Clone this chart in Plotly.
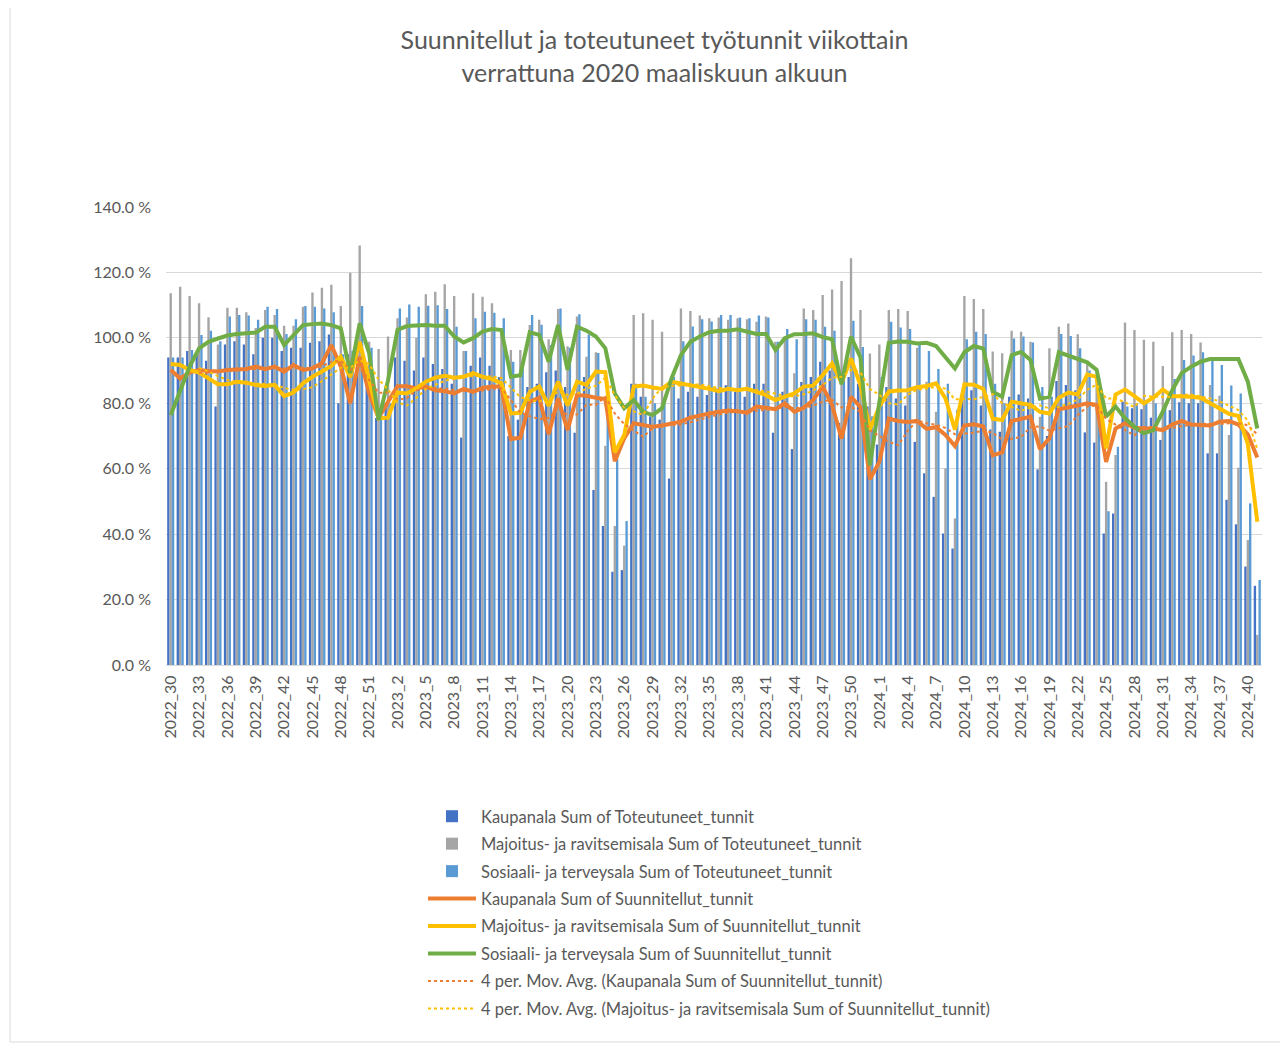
import plotly.graph_objects as go
import pandas as pd

weeks = ([f"2022_{w}" for w in range(30, 53)] +
         [f"2023_{w}" for w in range(1, 53)] +
         [f"2024_{w}" for w in range(1, 42)])

kaupanala_toteutuneet = [
    94, 94, 96, 95, 93, 79, 98, 99, 98, 95, 100, 100, 96, 97, 97, 98.5, 99, 101, 80, 95,
    95, 90, 75.5, 80, 94, 93, 90, 94, 92, 90.5, 86, 69.5, 91.5, 94, 91.5, 88, 70, 75, 85, 86,
    89.5, 90, 85, 71, 88, 53.5, 42.5, 28.5, 29, 86, 82, 76, 75, 57, 81.5, 83.5, 82, 82.5, 84.5, 85.5,
    83.5, 82, 86, 86, 71, 83.5, 66, 86.5, 88, 92.7, 90, 74, 88, 86, 79, 67.4, 85, 81.5, 79.3, 68.2,
    58.6, 51.4, 40.2, 35.6, 82, 84, 79.3, 72, 71.3, 82, 82.7, 81.5, 59.8, 70, 86.8, 85.6, 84, 71.1, 68, 40.2,
    46.3, 80.5, 78.5, 78.2, 75.6, 68.8, 77.9, 80.3, 80, 80, 64.7, 64.7, 50.5, 43, 30.1, 24.2]

majoitus_toteutuneet = [
    113.6, 115.6, 112.8, 110.6, 106.3, 98, 109.2, 109.2, 107.8, 103, 108.5, 107, 103.7, 103.7, 109.5, 113.9, 115.3, 116.2, 109.7, 119.9,
    128.2, 98.8, 96.6, 100.4, 106, 106.2, 100, 113.3, 114.1, 116.4, 112.8, 96, 113.6, 112.6, 110.6, 102.9, 96.3, 96.3, 103.9, 105.5,
    99.6, 108.8, 97.4, 106.5, 94.2, 95.6, 67, 42.5, 36.5, 107, 107.5, 105.5, 101.9, 87.6, 109, 108.2, 106.8, 106, 106.2, 105.5,
    106, 105.7, 104.9, 106.5, 98.8, 100, 89.2, 109, 108.5, 113.1, 114.8, 117.4, 124.3, 108.5, 95.2, 98, 108.5, 108.8, 108.2, 97,
    86.6, 77.4, 60.1, 44.8, 112.8, 111.9, 108.8, 95.8, 95.3, 102.2, 101.9, 98.8, 75.9, 96.8, 103.4, 104.4, 101.1, 92, 88, 56,
    64.2, 104.7, 102.4, 99.4, 98.8, 91.4, 101.7, 102.4, 101.2, 98.6, 85.6, 82.3, 70.3, 60.3, 38.2, 9.2]

sosiaali_toteutuneet = [
    94, 94, 96.3, 100.9, 102.2, 99, 106.5, 107, 106.8, 105.5, 109.5, 108.8, 101.2, 105.7, 109.7, 109.5, 109, 107.8, 95, 96,
    109.7, 97, 75, 80, 109, 110.2, 109.5, 109.8, 110, 108.8, 103.4, 96, 106, 108, 107.7, 106, 92.7, 91.5, 107, 104,
    97.8, 109, 97, 107.2, 101, 95.4, 80, 63, 44, 86, 82, 80, 80, 88, 99, 103.5, 105.7, 105, 107, 107,
    106.2, 106, 106.8, 106.2, 98.8, 102.7, 99.6, 105.7, 105.5, 103.4, 102.2, 91, 105.2, 97.2, 76, 88, 104.9, 103.2, 102.7, 97.8,
    96, 90.5, 86, 78, 99.6, 101.9, 101.2, 86, 80, 99.8, 100.4, 98.6, 85, 82, 101.2, 100.6, 96.8, 90, 88, 47,
    66.7, 79, 80, 80, 80, 80, 87.4, 93.2, 94.6, 95.6, 92.9, 91.7, 85.4, 83, 49.4, 26]

kaupanala_suunnitellut = [
    90.2, 87.6, 89.4, 90.2, 89.9, 89.7, 90.2, 90.4, 90.5, 91.2, 90.4, 91.2, 89.7, 91.7, 90.2, 90.7, 92.2, 97.8, 91.2, 80.0,
    94.2, 83.1, 75.5, 80.5, 85.2, 85.2, 84.5, 85.1, 84.0, 83.7, 83.0, 84.4, 83.5, 84.7, 85.1, 85.1, 69.1, 69.5, 80.5, 81.7,
    70.5, 81.5, 71.8, 82.5, 82.3, 81.7, 81.3, 62.3, 69.3, 73.9, 73.4, 72.8, 73.2, 73.7, 74.4, 75.6, 76.4, 76.9, 77.4, 77.8,
    77.6, 77.1, 79.0, 78.5, 78.2, 80.0, 77.4, 78.6, 81.0, 85.1, 79.5, 69.2, 82.0, 78.8, 56.8, 62.1, 75.3, 74.6, 74.3, 74.6,
    72.2, 72.7, 70.3, 66.9, 73.2, 73.6, 72.9, 64.1, 65.0, 74.6, 75.2, 75.9, 66.0, 69.3, 78.2, 78.6, 79.3, 80.0, 79.5, 62.1,
    72.3, 73.9, 72.5, 72.3, 72.3, 71.8, 73.5, 74.6, 73.5, 73.4, 73.2, 74.4, 74.6, 73.5, 70.5, 63.4]

majoitus_suunnitellut = [
    92.0, 91.7, 90.2, 89.4, 87.6, 85.8, 85.8, 86.6, 86.3, 85.6, 85.3, 85.6, 82.2, 83.3, 86.1, 88.1, 89.7, 91.4, 94.2, 88.0,
    98.8, 87.0, 75.4, 75.6, 83.3, 83.0, 84.6, 86.6, 87.8, 88.4, 87.8, 88.1, 89.2, 88.1, 87.4, 86.1, 76.9, 77.1, 83.5, 85.1,
    79.2, 86.6, 79.3, 86.6, 85.6, 89.7, 89.5, 65.0, 70.3, 85.1, 85.4, 84.8, 84.4, 86.6, 86.1, 85.4, 85.1, 84.4, 83.7, 84.4,
    84.0, 84.4, 83.5, 82.5, 81.0, 82.0, 83.0, 85.1, 85.4, 88.6, 92.2, 86.3, 93.7, 85.5, 72.0, 79.0, 83.6, 83.9, 84.0, 84.9,
    85.3, 86.1, 81.5, 71.9, 85.8, 85.7, 84.4, 75.3, 74.9, 80.5, 80.0, 79.5, 77.4, 76.9, 81.7, 83.3, 82.7, 88.8, 88.1, 66.2,
    82.7, 84.2, 82.2, 80.0, 81.7, 84.2, 82.2, 82.2, 82.0, 81.7, 80.1, 78.6, 76.8, 76.1, 67.5, 43.8]

sosiaali_suunnitellut = [
    76.4, 84.0, 91.2, 96.8, 98.8, 99.8, 100.7, 101.2, 101.4, 101.6, 103.4, 103.4, 97.8, 100.9, 103.9, 104.2, 104.4, 103.9, 102.9, 89.2,
    104.4, 95.3, 74.9, 87.0, 102.4, 103.6, 103.9, 103.9, 103.7, 103.7, 100.4, 98.6, 99.9, 101.9, 102.7, 102.4, 88.1, 88.6, 101.7, 100.9,
    92.7, 103.9, 90.2, 103.4, 102.2, 100.4, 96.8, 83.0, 78.5, 81.0, 77.4, 76.4, 78.5, 87.6, 94.7, 98.8, 100.4, 101.7, 102.2, 102.2,
    102.6, 101.9, 101.2, 101.2, 96.3, 99.9, 101.1, 101.2, 101.4, 100.2, 99.6, 85.8, 100.4, 94.0, 61.0, 80.3, 98.5, 98.9, 98.8, 98.3,
    98.5, 97.5, 94.2, 90.6, 95.6, 97.5, 96.7, 83.5, 82.0, 94.7, 95.7, 93.2, 81.4, 82.0, 95.6, 94.6, 93.5, 92.5, 90.2, 75.9,
    79.0, 75.4, 72.8, 70.8, 71.8, 77.4, 84.0, 89.2, 91.2, 92.7, 93.5, 93.6, 93.6, 93.5, 86.6, 72.3]

y_tickvals = [0, 20, 40, 60, 80, 100, 120, 140]
y_ticktext = ["0.0 %", "20.0 %", "40.0 %", "60.0 %", "80.0 %", "100.0 %", "120.0 %", "140.0 %"]

# Excel-style 4 period moving average trendlines
ma_kaupanala = pd.Series(kaupanala_suunnitellut).rolling(4).mean().tolist()
ma_majoitus = pd.Series(majoitus_suunnitellut).rolling(4).mean().tolist()

FONT = "Lato, 'Open Sans', sans-serif"
GREY_TXT = "#595959"

fig = go.Figure()
bar_specs = [
    ("Kaupanala Sum of Toteutuneet_tunnit", kaupanala_toteutuneet, "#4472C4"),
    ("Majoitus- ja ravitsemisala Sum of Toteutuneet_tunnit", majoitus_toteutuneet, "#A5A5A5"),
    ("Sosiaali- ja terveysala Sum of Toteutuneet_tunnit", sosiaali_toteutuneet, "#5B9BD5"),
]
for i, (name, vals, col) in enumerate(bar_specs):
    fig.add_trace(go.Bar(x=weeks, y=vals, name=name, marker=dict(color=col, line=dict(width=0)),
                         legendgroup=f"g{i}"))

line_specs = [
    ("Kaupanala Sum of Suunnitellut_tunnit", kaupanala_suunnitellut, "#ED7D31"),
    ("Majoitus- ja ravitsemisala Sum of Suunnitellut_tunnit", majoitus_suunnitellut, "#FFC000"),
    ("Sosiaali- ja terveysala Sum of Suunnitellut_tunnit", sosiaali_suunnitellut, "#70AD47"),
]
for i, (name, vals, col) in enumerate(line_specs):
    fig.add_trace(go.Scatter(x=weeks, y=vals, name=name, mode="lines",
                             line=dict(color=col, width=4), legendgroup=f"l{i}"))

fig.add_trace(go.Scatter(x=weeks, y=ma_kaupanala, mode="lines",
                         name="4 per. Mov. Avg. (Kaupanala Sum of Suunnitellut_tunnit)",
                         line=dict(color="#ED7D31", width=2, dash="dot"), legendgroup="m0"))
fig.add_trace(go.Scatter(x=weeks, y=ma_majoitus, mode="lines",
                         name="4 per. Mov. Avg. (Majoitus- ja ravitsemisala Sum of Suunnitellut_tunnit)",
                         line=dict(color="#FFC000", width=2, dash="dot"), legendgroup="m1"))

# page has an 8px body margin; figure is sized to fill the rest of the window
OFF = 8
W, H = 1288 - OFF, 1051 - OFF
PLOT_LEFT, PLOT_RIGHT, PLOT_TOP, PLOT_BOTTOM = 166, 1262, 207, 665   # page pixel coords
L = PLOT_LEFT - OFF
R = W - (PLOT_RIGHT - OFF)
T = PLOT_TOP - OFF
B = H - (PLOT_BOTTOM - OFF)
pw, ph = W - L - R, H - T - B

def px_x(page_x):
    return (page_x - PLOT_LEFT) / pw

def px_y(page_y):
    return (PLOT_BOTTOM - page_y) / ph

fig.update_layout(
    width=W, height=H,
    margin=dict(l=L, r=R, t=T, b=B),
    paper_bgcolor="white", plot_bgcolor="white",
    font=dict(family=FONT, color=GREY_TXT),
    title=dict(text="Suunnitellut ja toteutuneet työtunnit viikottain<br>verrattuna 2020 maaliskuun alkuun",
               x=(654.5 - OFF) / W, xanchor="center", xref="container",
               y=1 - (56.5 - 7.5 - OFF) / H, yref="container", yanchor="middle",
               font=dict(size=25, color=GREY_TXT, family=FONT)),
    barmode="group", bargap=0.25, bargroupgap=0,
    showlegend=True,
    legend=dict(orientation="v", x=px_x(423), xanchor="left", y=px_y(799), yanchor="top",
                font=dict(size=16.5, color=GREY_TXT, family=FONT), tracegroupgap=3,
                itemwidth=48, bgcolor="rgba(0,0,0,0)"),
    xaxis=dict(type="category", tickmode="array", tickvals=weeks[::3], ticktext=weeks[::3],
               tickangle=-90, showgrid=False, showline=True, linecolor="#D9D9D9", linewidth=1,
               ticks="", ticklabelstandoff=3, tickfont=dict(size=16, color=GREY_TXT, family=FONT),
               range=[-0.5, len(weeks) - 0.5]),
    yaxis=dict(range=[0, 140], tickmode="array", tickvals=y_tickvals, ticktext=y_ticktext,
               showgrid=True, gridcolor="#D9D9D9", gridwidth=1, zeroline=False, showline=False,
               ticks="", ticklabelstandoff=14, tickfont=dict(size=16, color=GREY_TXT, family=FONT)),
    shapes=[dict(type="rect", xref="paper", yref="paper",
                 x0=px_x(10), x1=px_x(1320), y0=px_y(1042), y1=px_y(-20),
                 line=dict(color="#D9D9D9", width=1), fillcolor="rgba(0,0,0,0)", layer="below")],
)

fig.write_html("out.html")
